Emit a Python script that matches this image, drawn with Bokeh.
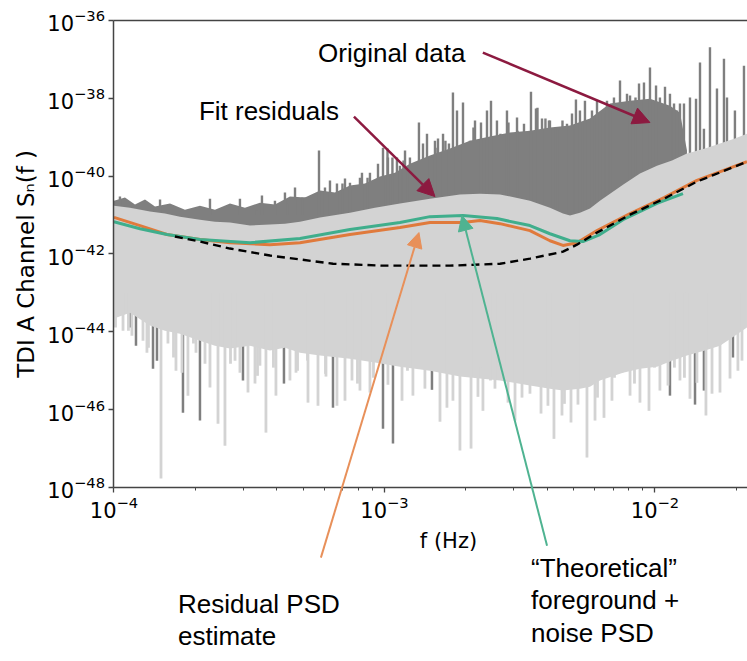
import numpy as np
from bokeh.plotting import figure
from bokeh.models import (FixedTicker, LogAxis, LogTickFormatter, Label, Arrow,
                          NormalHead, Range1d)
from bokeh.embed import file_html
from bokeh.resources import INLINE

# ---------------- data (frequencies in Hz, PSD given as log10 exponents) ----------------
# Fit residuals periodogram: envelope of the dense light-grey band
resid_freq = [1.000e-4, 1.146e-4, 1.358e-4, 1.543e-4, 1.754e-4, 2.079e-4, 2.362e-4, 2.684e-4,
              3.183e-4, 3.772e-4, 4.286e-4, 4.871e-4, 5.776e-4, 7.455e-4, 9.224e-4, 1.141e-3,
              1.473e-3, 1.901e-3, 2.254e-3, 2.673e-3, 3.450e-3, 4.090e-3, 4.569e-3, 4.851e-3,
              5.280e-3, 5.750e-3, 6.260e-3, 7.616e-3, 8.800e-3, 1.017e-2, 1.156e-2, 1.313e-2,
              1.530e-2, 1.739e-2, 1.975e-2, 2.188e-2]
resid_upper_exp = [-40.76, -40.81, -40.91, -40.96, -41.04, -41.12, -41.17, -41.19,
                   -41.27, -41.24, -41.22, -41.17, -41.06, -40.94, -40.81, -40.70,
                   -40.58, -40.47, -40.45, -40.47, -40.63, -40.81, -40.96, -41.01,
                   -40.94, -40.83, -40.63, -40.22, -39.93, -39.73, -39.60, -39.42,
                   -39.29, -39.16, -39.03, -38.91]
resid_lower_exp = [-43.66, -43.51, -43.84, -43.97, -44.05, -44.23, -44.36, -44.43,
                   -44.36, -44.48, -44.41, -44.54, -44.61, -44.69, -44.79, -44.90,
                   -45.00, -45.15, -45.20, -45.25, -45.38, -45.46, -45.51, -45.49,
                   -45.46, -45.41, -45.25, -45.05, -44.95, -44.90, -44.74, -44.61,
                   -44.48, -44.36, -44.10, -43.89]
# downward excursions of the residual periodogram
resid_dip_freq = [1.080e-4, 1.280e-4, 1.492e-4, 1.583e-4, 1.695e-4, 1.877e-4, 2.170e-4, 2.264e-4,
                  2.424e-4, 2.572e-4, 2.802e-4, 3.321e-4, 3.646e-4, 4.472e-4, 5.215e-4, 5.678e-4,
                  6.673e-4, 8.116e-4, 1.274e-3, 1.604e-3, 1.702e-3, 1.901e-3, 2.089e-3, 2.312e-3,
                  2.561e-3, 3.224e-3, 3.450e-3, 3.790e-3, 4.232e-3, 4.892e-3, 5.605e-3, 6.479e-3,
                  7.551e-3, 9.502e-3, 1.043e-2, 1.237e-2, 1.543e-2, 1.625e-2, 1.739e-2, 2.026e-2,
                  1.165e-4, 1.324e-4, 1.784e-4, 2.010e-4, 2.922e-4, 3.129e-4, 3.464e-4, 3.970e-4,
                  4.709e-4, 6.077e-4, 7.145e-4, 7.583e-4, 8.837e-4, 1.030e-3, 1.161e-3, 1.411e-3,
                  1.791e-3, 2.216e-3, 2.862e-3, 3.038e-3, 4.021e-3, 4.531e-3, 5.191e-3, 6.002e-3,
                  6.934e-3, 8.087e-3, 8.800e-3, 1.117e-2, 1.347e-2, 1.429e-2, 1.894e-2, 2.097e-2,
                  1.013e-4, 1.131e-4, 1.341e-4, 1.660e-4, 1.967e-4, 2.696e-4, 3.196e-4, 3.393e-4,
                  3.886e-4, 4.770e-4, 5.193e-4, 6.052e-4, 7.297e-4, 7.946e-4, 9.106e-4, 1.216e-3,
                  1.394e-3, 2.264e-3, 2.465e-3, 2.777e-3, 4.108e-3, 4.627e-3, 6.130e-3, 7.084e-3,
                  8.399e-3, 9.959e-3, 1.180e-2, 1.285e-2]
resid_dip_exp = [-43.97, -44.23, -47.77, -44.30, -45.00, -45.64, -44.82, -45.43,
                 -46.36, -46.93, -44.74, -45.33, -46.59, -45.25, -45.82, -45.90,
                 -45.90, -45.51, -45.64, -46.31, -45.95, -47.05, -47.00, -46.03,
                 -45.46, -45.69, -45.59, -46.10, -46.75, -46.33, -47.23, -46.21,
                 -45.05, -46.03, -45.51, -45.25, -46.15, -45.59, -45.56, -45.00,
                 -44.10, -44.54, -45.05, -44.54, -45.05, -45.56, -44.87, -45.64,
                 -45.05, -45.15, -45.77, -45.25, -45.56, -45.36, -45.77, -45.46,
                 -45.77, -45.67, -45.82, -46.28, -45.90, -46.15, -45.87, -46.28,
                 -45.77, -45.64, -45.82, -45.38, -45.72, -45.31, -45.20, -44.74,
                 -43.89, -43.97, -44.41, -44.66, -44.30, -44.82, -44.30, -45.13,
                 -44.92, -45.00, -44.74, -45.08, -44.66, -45.33, -45.18, -45.00,
                 -44.82, -44.92, -45.25, -44.92, -45.18, -45.85, -45.69, -45.18,
                 -45.33, -44.92, -44.92, -45.18]

# Original data periodogram: dense dark-grey band
orig_freq = [1.000e-4, 1.098e-4, 1.196e-4, 1.302e-4, 1.418e-4, 1.611e-4, 1.830e-4, 2.079e-4,
             2.362e-4, 2.684e-4, 3.049e-4, 3.464e-4, 3.936e-4, 4.472e-4, 5.081e-4, 5.776e-4,
             6.561e-4, 7.455e-4, 8.470e-4, 9.625e-4, 1.093e-3, 1.242e-3, 1.473e-3, 1.746e-3,
             2.070e-3, 2.455e-3, 2.911e-3, 3.450e-3, 4.090e-3, 4.851e-3, 5.750e-3, 6.819e-3,
             8.087e-3, 9.583e-3, 1.136e-2, 1.237e-2, 1.313e-2]
orig_upper_exp = [-40.63, -40.55, -40.73, -40.60, -40.78, -40.70, -40.86, -40.76,
                  -40.86, -40.70, -40.81, -40.68, -40.73, -40.52, -40.55, -40.37,
                  -40.42, -40.24, -40.19, -40.01, -39.91, -39.68, -39.47, -39.29,
                  -39.09, -38.98, -38.88, -38.83, -38.75, -38.70, -38.52, -38.13,
                  -38.06, -38.01, -38.19, -38.37, -39.34]
orig_lower_exp = [-41.2, -41.2, -41.2, -41.25, -41.3, -41.3, -41.35, -41.4,
                  -41.4, -41.45, -41.45, -41.5, -41.5, -41.45, -41.4, -41.35,
                  -41.3, -41.25, -41.2, -41.15, -41.1, -41.05, -41.0, -40.95,
                  -40.9, -40.9, -40.95, -41.0, -41.1, -41.2, -41.1, -40.8,
                  -40.6, -40.4, -40.2, -40.0, -39.8]
# peaks of the original data
orig_peak_freq = [1.052e-4, 1.480e-4, 2.264e-4, 2.922e-4, 3.524e-4, 4.286e-4, 4.669e-4, 5.727e-4,
                  6.288e-4, 7.145e-4, 8.256e-4, 9.874e-4, 1.030e-3, 1.141e-3, 1.191e-3, 1.341e-3,
                  1.388e-3, 1.498e-3, 1.577e-3, 1.731e-3, 1.791e-3, 1.951e-3, 2.070e-3, 2.274e-3,
                  2.476e-3, 3.480e-3, 3.631e-3, 3.822e-3, 4.055e-3, 4.728e-3, 5.103e-3, 5.510e-3,
                  6.105e-3, 6.424e-3, 7.425e-3, 7.880e-3, 8.087e-3, 9.106e-3, 9.583e-3, 1.009e-2,
                  1.089e-2, 1.176e-2, 1.237e-2, 1.347e-2, 1.418e-2, 1.467e-2, 1.517e-2, 1.597e-2,
                  1.695e-2, 1.799e-2, 1.846e-2, 1.975e-2, 2.133e-2,
                  3.379e-4, 3.936e-4, 5.081e-4, 6.026e-4, 6.673e-4, 7.455e-4, 8.116e-4, 8.837e-4,
                  9.463e-4, 1.112e-3, 1.242e-3, 1.436e-3, 1.537e-3, 1.646e-3, 1.854e-3, 2.161e-3,
                  2.393e-3, 2.605e-3, 2.837e-3, 3.090e-3, 3.279e-3, 4.090e-3, 4.342e-3, 4.934e-3,
                  5.280e-3, 5.849e-3, 6.647e-3, 7.053e-3, 8.581e-3, 8.729e-3, 1.043e-2, 1.136e-2,
                  1.206e-2, 1.280e-2,
                  4.378e-4, 4.974e-4, 6.993e-4, 8.657e-4, 1.026e-3, 1.070e-3, 1.176e-3, 1.570e-3,
                  1.680e-3, 2.133e-3, 2.684e-3, 2.873e-3, 3.103e-3, 3.678e-3, 3.936e-3, 4.287e-3,
                  4.550e-3, 4.789e-3, 6.848e-3, 8.472e-3]
orig_peak_exp = [-40.52, -40.60, -40.58, -40.58, -40.50, -40.42, -40.29, -39.34,
                 -40.11, -40.06, -39.91, -39.27, -39.52, -39.73, -39.34, -38.62,
                 -39.16, -39.52, -39.03, -39.16, -37.85, -38.11, -39.09, -38.62,
                 -38.06, -37.83, -38.26, -38.52, -38.57, -38.65, -38.03, -38.06,
                 -38.06, -38.37, -37.54, -37.88, -37.93, -37.59, -37.21, -37.67,
                 -37.70, -38.13, -38.13, -37.98, -38.01, -37.08, -38.78, -36.69,
                 -37.75, -36.98, -37.98, -38.31, -37.16,
                 -40.88, -40.63, -40.55, -40.29, -40.19, -40.17, -40.04, -39.91,
                 -39.68, -39.52, -39.52, -38.91, -39.09, -38.91, -38.31, -38.57,
                 -38.31, -38.57, -38.31, -38.49, -38.65, -38.57, -38.83, -38.39,
                 -38.31, -38.31, -38.06, -37.98, -38.06, -37.62, -37.98, -37.88,
                 -38.31, -38.13,
                 -40.70, -40.55, -40.19, -40.04, -39.29, -39.52, -39.60, -39.27,
                 -39.09, -38.75, -38.91, -38.62, -38.83, -38.24, -38.52, -38.75,
                 -38.57, -38.75, -38.24, -37.98]
# downward excursions of the original data
orig_dip_freq = [1.146e-4, 1.206e-4, 1.394e-4, 1.442e-4, 1.799e-4, 2.079e-4, 2.998e-4, 4.250e-4,
                 6.451e-4, 9.874e-4, 1.075e-3, 1.498e-3, 1.136e-2, 1.406e-2, 1.517e-2, 1.942e-2]
orig_dip_exp = [-43.89, -44.36, -44.95, -44.74, -46.08, -46.28, -45.25, -45.33,
                -45.95, -46.49, -46.87, -45.49, -45.64, -45.87, -45.51, -44.66]

# Residual PSD estimate (orange)
est_freq = [1.000e-4, 1.248e-4, 1.570e-4, 2.079e-4, 2.684e-4, 3.772e-4, 4.871e-4, 7.455e-4,
            1.141e-3, 1.473e-3, 1.951e-3, 2.254e-3, 2.673e-3, 3.450e-3, 4.090e-3, 4.569e-3,
            5.146e-3, 6.105e-3, 8.087e-3, 1.080e-2, 1.429e-2, 1.784e-2, 2.188e-2]
est_exp = [-41.06, -41.27, -41.50, -41.63, -41.71, -41.76, -41.71, -41.50,
           -41.32, -41.19, -41.19, -41.14, -41.22, -41.40, -41.66, -41.78,
           -41.71, -41.40, -40.96, -40.55, -40.11, -39.86, -39.63]

# "Theoretical" foreground + noise PSD (green)
theo_freq = [1.000e-4, 1.248e-4, 1.570e-4, 2.079e-4, 3.183e-4, 4.871e-4, 7.455e-4, 1.141e-3,
             1.473e-3, 1.951e-3, 2.605e-3, 3.450e-3, 4.090e-3, 4.851e-3, 5.415e-3, 6.260e-3,
             7.616e-3, 1.017e-2, 1.269e-2]
theo_exp = [-41.17, -41.35, -41.50, -41.63, -41.71, -41.60, -41.37, -41.19,
            -41.04, -41.01, -41.09, -41.27, -41.48, -41.66, -41.68, -41.50,
            -41.12, -40.70, -40.45]

# Instrument noise PSD (black dashed)
noise_freq = [1.680e-4, 2.079e-4, 2.684e-4, 3.772e-4, 4.871e-4, 6.451e-4, 9.874e-4, 1.318e-3,
              1.746e-3, 2.673e-3, 3.450e-3, 4.569e-3, 5.146e-3, 6.105e-3, 8.087e-3, 1.080e-2,
              1.429e-2, 2.188e-2]
noise_exp = [-41.55, -41.68, -41.86, -42.04, -42.14, -42.25, -42.30, -42.30,
             -42.30, -42.25, -42.12, -41.94, -41.76, -41.45, -40.99, -40.58,
             -40.14, -39.63]

x_major_ticks = [1e-4, 1e-3, 1e-2]
x_minor_ticks = [m * d for d in (1e-4, 1e-3, 1e-2) for m in range(2, 10)]
y_major_ticks = [1e-48, 1e-46, 1e-44, 1e-42, 1e-40, 1e-38, 1e-36]


def p10(a):
    return (10.0 ** np.array(a, dtype=float)).tolist()


# ---------------- colours ----------------
DARK = "#7f7f7f"
LIGHT = "#d3d3d3"
ORANGE = "#e07a3c"
GREEN = "#3fae8c"
WINE = "#8c1a40"
ORANGE_ARROW = "#e8905a"
GREEN_ARROW = "#4fb391"
AXIS = "#444444"

# The frame spans the whole canvas so that the annotations below the axes are not clipped;
# the axes are drawn at fixed locations with bounds.
p = figure(width=747, height=661, x_axis_type="log", y_axis_type="log",
           x_axis_location=None, y_axis_location=None,
           x_range=Range1d(3.806e-5, 2.198e-2), y_range=Range1d(3.38e-53, 3.265e-36),
           output_backend="svg", toolbar_location=None, min_border=0,
           min_border_left=0, min_border_right=0, min_border_top=0, min_border_bottom=0)
p.title.visible = False
p.outline_line_color = None
p.grid.visible = False
p.background_fill_color = "white"
p.border_fill_color = "white"

# original data
p.varea(x=orig_freq, y1=p10(orig_lower_exp), y2=p10(orig_upper_exp), fill_color=DARK)
p.segment(x0=orig_peak_freq, y0=1e-41, x1=orig_peak_freq, y1=p10(orig_peak_exp),
          line_color=DARK, line_width=2.4)
p.segment(x0=orig_dip_freq, y0=1e-43, x1=orig_dip_freq, y1=p10(orig_dip_exp),
          line_color=DARK, line_width=2.5)
# fit residuals
p.varea(x=resid_freq, y1=p10(resid_lower_exp), y2=p10(resid_upper_exp), fill_color=LIGHT)
p.segment(x0=resid_dip_freq, y0=1e-43, x1=resid_dip_freq, y1=p10(resid_dip_exp),
          line_color=LIGHT, line_width=2.8)

# PSD curves
p.line(est_freq, p10(est_exp), line_color=ORANGE, line_width=3)
p.line(theo_freq, p10(theo_exp), line_color=GREEN, line_width=3)
p.line(noise_freq, p10(noise_exp), line_color="black", line_width=2.4, line_dash="8 5")

# ---------------- axes ----------------
xa = LogAxis(fixed_location=1e-48, bounds=(1e-4, 3e-2),
             ticker=FixedTicker(ticks=x_major_ticks, minor_ticks=x_minor_ticks),
             formatter=LogTickFormatter())
ya = LogAxis(fixed_location=1e-4, bounds=(1e-48, 1e-36),
             ticker=FixedTicker(ticks=y_major_ticks, minor_ticks=[]),
             formatter=LogTickFormatter())
for ax in (xa, ya):
    ax.axis_line_color = AXIS
    ax.axis_line_width = 1.5
    ax.major_tick_line_color = AXIS
    ax.major_tick_line_width = 1.3
    ax.major_tick_in = 0
    ax.major_tick_out = 5
    ax.minor_tick_line_color = AXIS
    ax.minor_tick_in = 0
    ax.minor_tick_out = 3
    ax.major_label_text_font = "DejaVu Sans"
    ax.major_label_text_font_size = "21px"
    ax.major_label_text_color = "black"
    ax.major_label_standoff = 4
p.add_layout(xa, "below")
p.add_layout(ya, "left")
top = LogAxis(fixed_location=1e-36, bounds=(1e-4, 3e-2), ticker=FixedTicker(ticks=[]),
              major_label_text_font_size="0px", major_tick_line_color=None,
              minor_tick_line_color=None, axis_line_color=AXIS, axis_line_width=1.5)
p.add_layout(top, "above")

# axis titles
p.add_layout(Label(x=1.724e-3, y=4.10e-50, text="f (Hz)", text_font="DejaVu Sans",
                   text_font_size="21px", text_color="black",
                   text_baseline="middle", text_align="center"))
p.add_layout(Label(x=4.71e-5, y=8.63e-43, text="TDI A Channel   S\u2099(f )", angle=np.pi / 2,
                   text_font="DejaVu Sans", text_font_size="23px", text_color="black",
                   text_baseline="middle", text_align="center"))

# ---------------- annotations ----------------
TXT = dict(text_font="Liberation Sans", text_font_size="26px", text_color="black",
           text_baseline="middle", text_align="left")
p.add_layout(Label(x=5.68e-4, y=1.50e-37, text="Original data", **TXT))
p.add_layout(Label(x=2.06e-4, y=4.85e-39, text="Fit residuals", **TXT))
p.add_layout(Label(x=1.724e-4, y=1.03e-51, text="Residual PSD", **TXT))
p.add_layout(Label(x=1.724e-4, y=1.55e-52, text="estimate", **TXT))
p.add_layout(Label(x=3.48e-3, y=8.67e-51, text="\u201cTheoretical\u201d", **TXT))
p.add_layout(Label(x=3.48e-3, y=1.31e-51, text="foreground +", **TXT))
p.add_layout(Label(x=3.48e-3, y=1.85e-52, text="noise PSD", **TXT))

p.add_layout(Arrow(x_start=2.31e-3, y_start=1.50e-37, x_end=9.58e-3, y_end=2.39e-39,
                   line_color=WINE, line_width=2.5,
                   end=NormalHead(size=17, fill_color=WINE, line_color=WINE)))
p.add_layout(Arrow(x_start=7.71e-4, y_start=3.40e-39, x_end=1.537e-3, y_end=2.99e-41,
                   line_color=WINE, line_width=2.5,
                   end=NormalHead(size=17, fill_color=WINE, line_color=WINE)))
p.add_layout(Arrow(x_start=5.82e-4, y_start=1.58e-50, x_end=1.341e-3, y_end=3.55e-42,
                   line_color=ORANGE_ARROW, line_width=2,
                   end=NormalHead(size=15, fill_color=ORANGE_ARROW, line_color=ORANGE_ARROW)))
p.add_layout(Arrow(x_start=3.99e-3, y_start=3.19e-50, x_end=1.934e-3, y_end=9.70e-42,
                   line_color=GREEN_ARROW, line_width=2,
                   end=NormalHead(size=15, fill_color=GREEN_ARROW, line_color=GREEN_ARROW)))

open("out.html", "w").write(file_html(p, INLINE))
